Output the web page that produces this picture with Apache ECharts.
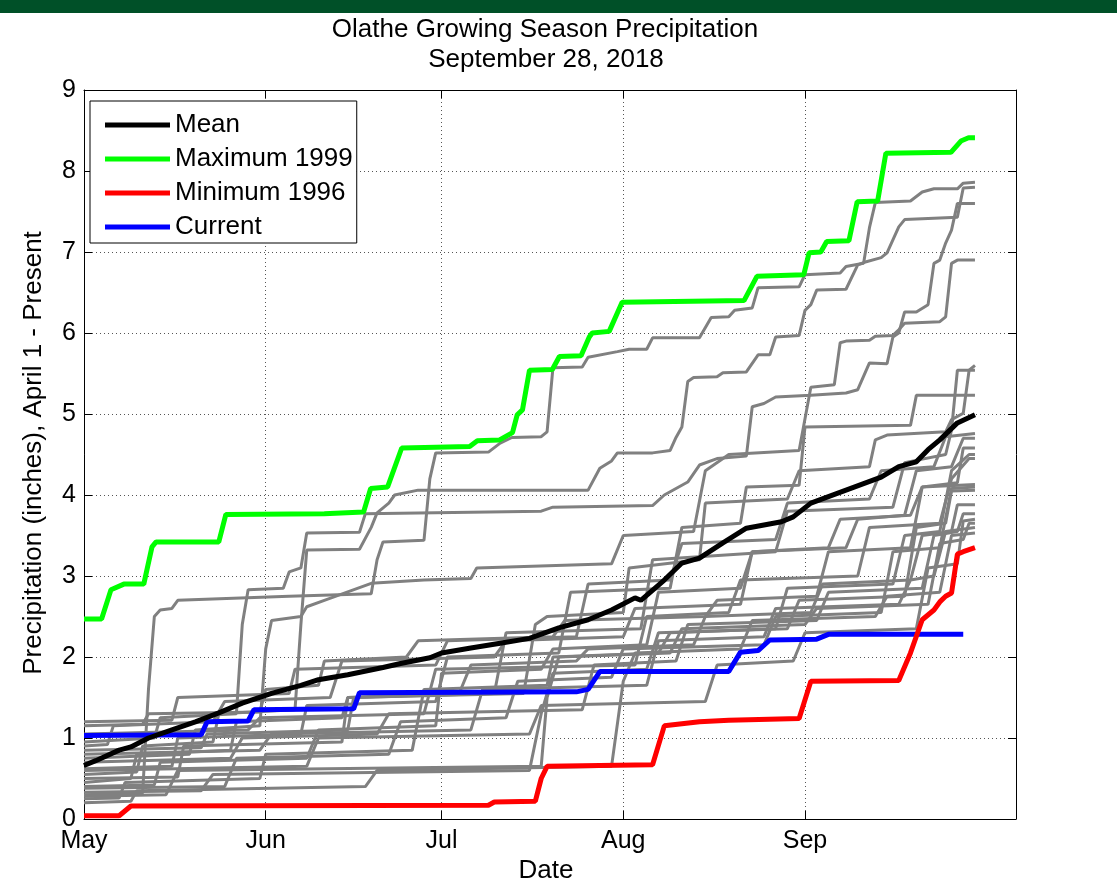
<!DOCTYPE html>
<html>
<head>
<meta charset="utf-8">
<script src="https://cdn.jsdelivr.net/npm/echarts@6.0.0/dist/echarts.min.js"></script>
<style>
  html, body { margin: 0; padding: 0; background: #ffffff; }
  #chart { width: 1117px; height: 883px; }
</style>
</head>
<body>
<div id="chart"></div>
<script>
// x values are days since May 1; y values are cumulative inches since April 1
const monthTicks = [0, 31, 61, 92, 123];
const monthLabels = ['May', 'Jun', 'Jul', 'Aug', 'Sep'];
const yTicks = [0, 1, 2, 3, 4, 5, 6, 7, 8, 9];

const meanSeries = [[0,0.66],[2,0.72],[6,0.85],[8,0.89],[11,1.00],[15,1.10],[19,1.20],[23,1.31],[27,1.43],[32,1.55],[37,1.65],[40,1.72],[45,1.78],[51,1.87],[54,1.92],[59,1.99],[61,2.05],[66,2.11],[71,2.17],[76,2.23],[81,2.36],[86,2.46],[90,2.58],[94,2.73],[95,2.70],[99,2.95],[102,3.16],[105,3.22],[109,3.41],[113,3.59],[119,3.67],[121,3.73],[124,3.90],[130,4.06],[136,4.22],[139,4.35],[142,4.41],[144,4.56],[146,4.68],[149,4.89],[152,4.99]];

const max1999 = [[0,2.47],[3,2.47],[4.6,2.83],[6.8,2.90],[10.2,2.90],[11.6,3.36],[12.3,3.42],[23,3.42],[24.2,3.76],[41,3.77],[47.7,3.79],[48.9,4.08],[51.8,4.10],[54.2,4.58],[65.8,4.60],[67.1,4.67],[70.9,4.68],[73.1,4.77],[73.9,4.99],[74.8,5.05],[76,5.54],[79.9,5.55],[81.1,5.71],[84.8,5.72],[86.2,5.95],[86.7,6.00],[89.6,6.02],[91.8,6.38],[112.6,6.40],[114.8,6.70],[122.8,6.72],[123.7,6.99],[125.7,7.00],[126.7,7.13],[130.5,7.14],[131.9,7.62],[135.4,7.63],[136.8,8.22],[147.9,8.23],[149.6,8.37],[150.9,8.41],[152,8.41]];

const min1996 = [[0,0.04],[6,0.04],[8,0.16],[69,0.17],[70,0.21],[77,0.22],[78,0.50],[79,0.65],[97,0.67],[99,1.15],[105,1.20],[110,1.22],[122,1.24],[124,1.70],[139,1.71],[141,2.05],[143,2.46],[145,2.58],[146,2.68],[147,2.75],[148,2.79],[149,3.27],[150,3.30],[152,3.35]];

const current2018 = [[0,1.03],[20,1.04],[21,1.20],[28,1.21],[29,1.35],[46,1.36],[47,1.56],[84,1.57],[86,1.60],[88,1.82],[110,1.82],[112,2.06],[115,2.08],[117,2.21],[125,2.22],[127,2.28],[150,2.28]];

// other seasons of record
const gray01 = [[0,0.30],[10,0.32],[11,1.6],[12,2.5],[13,2.58],[15,2.6],[16,2.7],[35,2.75],[49,2.78],[50,3.2],[51,3.42],[58,3.44],[59,4.2],[60,4.52],[69,4.53],[71,4.64],[73,4.71],[78,4.72],[79,4.78],[80,5.57],[85,5.58],[86,5.70],[91,5.77],[93,5.80],[96,5.80],[97,5.94],[105,5.94],[107,6.19],[110,6.20],[111,6.28],[114,6.31],[115,6.56],[122,6.57],[123,6.72],[129,6.74],[130,6.82],[133,6.86],[134,7.3],[135,7.61],[141,7.63],[143,7.74],[145,7.78],[149,7.78],[150,7.85],[152,7.86]];
const gray02 = [[0,0.55],[9,0.58],[10,0.9],[22,0.95],[23,1.3],[36,1.35],[37,2.4],[38,3.32],[47,3.33],[49,3.6],[50,3.78],[52,3.9],[53,4.0],[57,4.06],[86,4.06],[88,4.33],[90,4.42],[91,4.52],[97,4.52],[100,4.55],[101,4.71],[102,4.84],[103,5.40],[104,5.45],[108,5.46],[109,5.51],[113,5.52],[115,5.73],[117,5.73],[118,5.95],[122,5.97],[123,6.28],[124,6.35],[125,6.53],[130,6.54],[132,6.84],[133,6.87],[136,6.93],[137,6.99],[139,7.31],[140,7.40],[149,7.43],[150,7.79],[152,7.80]];
const gray03 = [[0,0.95],[12,1.0],[13,1.25],[26,1.3],[27,2.4],[28,2.83],[34,2.85],[35,3.05],[37,3.1],[38,3.53],[47,3.54],[48,3.77],[78,3.8],[80,3.85],[97,3.87],[99,4.0],[103,4.16],[105,4.37],[108,4.45],[113,4.48],[114,5.09],[116,5.13],[118,5.21],[124,5.23],[130,5.26],[132,5.30],[134,5.63],[137,5.62],[138,5.95],[139,6.0],[140,6.26],[142,6.26],[144,6.35],[145,6.86],[146,6.90],[147,7.11],[148,7.27],[149,7.60],[152,7.60]];
const gray04 = [[0,0.75],[18,0.8],[19,1.1],[30,1.15],[31,2.1],[32,2.45],[37,2.5],[38,2.62],[41,2.7],[49,2.91],[58,2.95],[66,2.97],[67,3.1],[90,3.15],[92,3.5],[104,3.55],[106,4.3],[110,4.5],[122,4.55],[124,5.33],[128,5.36],[129,5.88],[130,5.90],[134,5.91],[135,5.96],[138,5.97],[139,6.04],[140,6.12],[146,6.14],[147,6.20],[148,6.86],[149,6.90],[152,6.90]];
const gray05 = [[0,0.45],[8,0.5],[9,0.8],[25,0.85],[26,1.2],[44,1.25],[45,1.5],[75,1.55],[77,2.4],[79,2.5],[92,2.55],[93,3.1],[105,3.2],[106,3.9],[120,3.95],[122,4.3],[134,4.35],[135,4.68],[137,4.74],[147,4.78],[148,4.93],[150,5.01],[151,5.54],[152,5.60]];
const gray06 = [[0,0.85],[20,0.88],[21,1.05],[45,1.1],[46,1.5],[70,1.55],[72,2.3],[95,2.35],[97,3.2],[118,3.3],[120,3.8],[138,3.85],[140,4.4],[147,4.5],[148,4.8],[149,5.54],[152,5.54]];
const gray07 = [[0,0.62],[15,0.65],[16,1.0],[37,1.05],[38,1.4],[60,1.45],[62,2.0],[81,2.05],[83,2.8],[100,2.85],[102,3.6],[112,3.65],[113,4.1],[122,4.12],[123,4.84],[141,4.86],[142,5.23],[152,5.23]];
const gray08 = [[0,1.20],[15,1.22],[16,1.5],[35,1.55],[36,1.85],[60,1.9],[62,2.2],[84,2.25],[86,2.9],[100,2.95],[102,3.4],[118,3.45],[120,3.9],[134,3.95],[136,4.3],[145,4.35],[147,4.72],[152,4.76]];
const gray09 = [[0,0.40],[12,0.42],[13,0.7],[38,0.75],[40,1.1],[60,1.15],[61,1.8],[78,1.85],[80,2.1],[96,2.15],[98,2.8],[112,2.85],[114,3.3],[130,3.35],[132,3.7],[140,3.75],[142,4.3],[148,4.35],[150,4.70],[152,4.70]];
const gray10 = [[0,1.15],[10,1.17],[11,1.3],[30,1.32],[31,1.6],[40,1.65],[41,1.95],[55,2.0],[57,2.2],[80,2.25],[82,2.45],[106,2.5],[108,2.7],[125,2.75],[127,3.3],[141,3.35],[143,4.1],[149,4.15],[150,4.58],[152,4.58]];
const gray11 = [[0,0.25],[6,0.26],[7,0.45],[30,0.5],[31,0.8],[56,0.85],[58,1.6],[79,1.65],[80,2.0],[98,2.05],[100,2.3],[118,2.35],[120,2.85],[138,2.9],[140,3.5],[146,3.55],[148,4.3],[151,4.5],[152,4.5]];
const gray12 = [[0,0.90],[4,0.92],[5,1.15],[22,1.2],[24,1.45],[42,1.5],[44,1.95],[70,2.0],[72,2.2],[92,2.25],[94,2.6],[112,2.65],[114,3.3],[127,3.35],[129,3.7],[141,3.75],[143,4.1],[152,4.13]];
const gray13 = [[0,0.33],[20,0.35],[22,0.55],[76,0.6],[78,1.3],[80,1.8],[96,1.85],[98,2.3],[120,2.35],[122,2.7],[140,2.75],[142,3.6],[147,3.65],[148,4.05],[152,4.06]];
const gray14 = [[0,0.50],[16,0.52],[17,0.9],[44,0.95],[45,1.5],[64,1.55],[66,1.9],[84,1.95],[86,2.1],[104,2.15],[106,2.5],[124,2.55],[126,2.9],[141,2.95],[143,3.5],[148,3.55],[149,3.88],[152,3.88]];
const gray15 = [[0,0.70],[25,0.75],[27,1.0],[50,1.05],[52,1.3],[85,1.35],[87,1.9],[101,1.95],[103,2.4],[125,2.45],[127,2.8],[143,2.85],[145,3.5],[149,3.55],[150,3.77],[152,3.77]];
const gray16 = [[0,0.28],[14,0.3],[16,0.6],[78,0.65],[79,1.5],[81,2.0],[100,2.05],[102,2.35],[123,2.4],[125,2.6],[144,2.65],[146,3.4],[150,3.45],[151,3.65],[152,3.65]];
const gray17 = [[0,0.80],[30,0.85],[32,1.05],[66,1.1],[68,1.6],[96,1.65],[98,2.2],[116,2.25],[118,2.6],[139,2.65],[141,2.95],[145,3.0],[147,3.55],[152,3.60]];
const gray18 = [[0,0.20],[8,0.22],[9,0.35],[48,0.4],[50,0.6],[90,0.65],[92,1.7],[94,2.05],[112,2.1],[114,2.45],[135,2.5],[137,2.75],[146,2.8],[148,3.5],[152,3.53]];
const gray19 = [[0,0.60],[38,0.65],[40,1.0],[76,1.05],[78,1.4],[106,1.45],[108,1.9],[121,1.95],[123,2.3],[142,2.35],[144,3.1],[149,3.15],[150,3.68],[152,3.70]];
const gray20 = [[0,1.05],[28,1.1],[30,1.25],[58,1.3],[60,1.85],[94,1.9],[96,2.5],[110,2.55],[112,2.95],[132,3.0],[134,3.6],[146,3.65],[148,4.2],[151,4.45],[152,4.45]];
const gray21 = [[0,0.38],[24,0.4],[26,0.75],[52,0.8],[54,1.2],[72,1.25],[74,1.7],[90,1.75],[92,2.1],[116,2.15],[118,2.5],[136,2.55],[138,3.3],[146,3.35],[148,4.08],[152,4.10]];

const grayYears = [gray01, gray02, gray03, gray04, gray05, gray06, gray07, gray08, gray09, gray10, gray11,
  gray12, gray13, gray14, gray15, gray16, gray17, gray18, gray19, gray20, gray21];

const FONT = '"Liberation Sans", Arial, Helvetica, sans-serif';

const chart = echarts.init(document.getElementById('chart'), null, { renderer: 'canvas' });

const series = [];
grayYears.forEach(function (pts) {
  series.push({
    type: 'line', data: pts, showSymbol: false, symbol: 'none', silent: true,
    lineStyle: { color: '#808080', width: 3 }, itemStyle: { color: '#808080' }, z: 2
  });
});
function mainLine(name, pts, color) {
  return {
    type: 'line', name: name, data: pts, showSymbol: false, symbol: 'none', silent: true,
    lineStyle: { color: color, width: 5 }, itemStyle: { color: color }, z: 3
  };
}
series.push(mainLine('Current', current2018, '#0000ff'));
series.push(mainLine('Minimum 1996', min1996, '#ff0000'));
series.push(mainLine('Maximum 1999', max1999, '#00ff00'));
series.push(mainLine('Mean', meanSeries, '#000000'));

const dotted = { color: '#555555', width: 1, type: [1, 3] };

chart.setOption({
  animation: false,
  backgroundColor: '#ffffff',
  grid: { left: 84, top: 90, right: 101, bottom: 64, containLabel: false },
  xAxis: [{
    type: 'value', min: 0, max: 159,
    axisLine: { show: true, onZero: false, lineStyle: { color: '#000', width: 1 } },
    axisTick: { show: true, inside: true, length: 8, customValues: monthTicks, lineStyle: { color: '#000' } },
    axisLabel: {
      show: true, customValues: monthTicks, margin: 10, color: '#000', fontSize: 25, fontFamily: FONT,
      formatter: function (v) { return monthLabels[monthTicks.indexOf(v)]; }
    },
    splitLine: { show: true, lineStyle: dotted }
  }, {
    type: 'value', min: 0, max: 159, position: 'top',
    axisLine: { show: true, onZero: false, lineStyle: { color: '#000', width: 1 } },
    axisTick: { show: true, inside: true, length: 8, customValues: monthTicks, lineStyle: { color: '#000' } },
    axisLabel: { show: false },
    splitLine: { show: false }
  }],
  yAxis: [{
    type: 'value', min: 0, max: 9, interval: 1,
    axisLine: { show: true, onZero: false, lineStyle: { color: '#000', width: 1 } },
    axisTick: { show: true, inside: true, length: 8, lineStyle: { color: '#000' } },
    axisLabel: { show: true, margin: 8, color: '#000', fontSize: 25, fontFamily: FONT,
      formatter: function (v) { return yTicks.indexOf(v) >= 0 ? String(v) : ''; } },
    splitLine: { show: true, lineStyle: dotted }
  }, {
    type: 'value', min: 0, max: 9, interval: 1, position: 'right',
    axisLine: { show: true, onZero: false, lineStyle: { color: '#000', width: 1 } },
    axisTick: { show: true, inside: true, length: 8, lineStyle: { color: '#000' } },
    axisLabel: { show: false },
    splitLine: { show: false }
  }],
  legend: {
    data: ['Mean', 'Maximum 1999', 'Minimum 1996', 'Current'],
    orient: 'vertical', left: 90, top: 101,
    padding: [9, 4, 1, 15],
    itemWidth: 65, itemHeight: 5, itemGap: 4, icon: 'rect',
    backgroundColor: '#ffffff', borderColor: '#000000', borderWidth: 1,
    selectedMode: false,
    textStyle: { color: '#000', fontSize: 26, lineHeight: 30, fontFamily: FONT }
  },
  graphic: [
    { type: 'rect', left: 0, top: 0, shape: { width: 1117, height: 13 }, style: { fill: '#005028' }, silent: true },
    { type: 'text', x: 545, y: 30, style: { text: 'Olathe Growing Season Precipitation', fill: '#000',
      font: '26px ' + FONT, textAlign: 'center', textVerticalAlign: 'middle' } },
    { type: 'text', x: 546, y: 60, style: { text: 'September 28, 2018', fill: '#000',
      font: '26px ' + FONT, textAlign: 'center', textVerticalAlign: 'middle' } },
    { type: 'text', x: 34, y: 453, rotation: Math.PI / 2, style: { text: 'Precipitation (inches), April 1 - Present',
      fill: '#000', font: '26px ' + FONT, textAlign: 'center', textVerticalAlign: 'middle' } },
    { type: 'text', x: 546, y: 871, style: { text: 'Date', fill: '#000',
      font: '26px ' + FONT, textAlign: 'center', textVerticalAlign: 'middle' } }
  ],
  series: series
});
</script>
</body>
</html>
